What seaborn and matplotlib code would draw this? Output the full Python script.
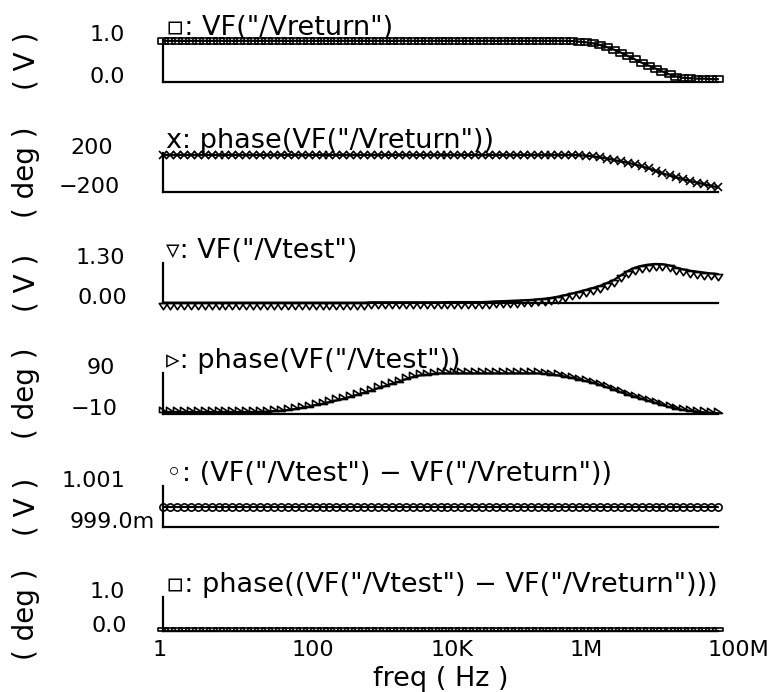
#!/usr/bin/env python3
"""Cadence-style AC sweep: six stacked waveform strips, black markers on white."""
import matplotlib; matplotlib.use("Agg")
import matplotlib.pyplot as plt
import matplotlib.transforms as mtransforms
from matplotlib.path import Path
import seaborn as sns

# ---- data (10 points / decade) ----
freq = [1.0e0, 1.26e0, 1.58e0, 2.0e0, 2.51e0, 3.16e0, 3.98e0, 5.01e0, 6.31e0, 7.94e0,
        1.0e1, 1.26e1, 1.58e1, 2.0e1, 2.51e1, 3.16e1, 3.98e1, 5.01e1, 6.31e1, 7.94e1,
        1.0e2, 1.26e2, 1.58e2, 2.0e2, 2.51e2, 3.16e2, 3.98e2, 5.01e2, 6.31e2, 7.94e2,
        1.0e3, 1.26e3, 1.58e3, 2.0e3, 2.51e3, 3.16e3, 3.98e3, 5.01e3, 6.31e3, 7.94e3,
        1.0e4, 1.26e4, 1.58e4, 2.0e4, 2.51e4, 3.16e4, 3.98e4, 5.01e4, 6.31e4, 7.94e4,
        1.0e5, 1.26e5, 1.58e5, 2.0e5, 2.51e5, 3.16e5, 3.98e5, 5.01e5, 6.31e5, 7.94e5,
        1.0e6, 1.26e6, 1.58e6, 2.0e6, 2.51e6, 3.16e6, 3.98e6, 5.01e6, 6.31e6, 7.94e6,
        1.0e7, 1.26e7, 1.58e7, 2.0e7, 2.51e7, 3.16e7, 3.98e7, 5.01e7, 6.31e7, 7.94e7,
        1.0e8]

vreturn_mag = [0.98, 0.98, 0.98, 0.98, 0.98, 0.98, 0.98, 0.98, 0.98, 0.98,
               0.98, 0.98, 0.98, 0.98, 0.98, 0.98, 0.98, 0.98, 0.98, 0.98,
               0.98, 0.98, 0.98, 0.98, 0.98, 0.98, 0.98, 0.98, 0.98, 0.98,
               0.98, 0.98, 0.98, 0.98, 0.98, 0.98, 0.98, 0.98, 0.98, 0.98,
               0.98, 0.98, 0.98, 0.98, 0.98, 0.98, 0.98, 0.98, 0.98, 0.98,
               0.98, 0.98, 0.98, 0.98, 0.98, 0.98, 0.98, 0.98, 0.98, 0.975,
               0.96, 0.945, 0.92, 0.88, 0.83, 0.77, 0.70, 0.62, 0.54, 0.46,
               0.39, 0.32, 0.25, 0.18, 0.13, 0.10, 0.09, 0.08, 0.08, 0.07,
               0.07]

vreturn_phase = [180, 180, 180, 180, 180, 180, 180, 180, 180, 180,
                 180, 180, 180, 180, 180, 180, 180, 180, 180, 180,
                 180, 180, 180, 180, 180, 180, 180, 180, 180, 180,
                 180, 180, 180, 180, 180, 180, 180, 180, 180, 180,
                 180, 180, 180, 180, 180, 180, 180, 180, 180, 180,
                 180, 180, 180, 180, 180, 180, 180, 180, 180, 180,
                 178, 172, 165, 155, 143, 128, 114, 100, 84, 64,
                 42, 17, -8, -29, -50, -69, -87, -104, -120, -137,
                 -152]

vtest_mag = [0.01, 0.01, 0.01, 0.01, 0.01, 0.01, 0.01, 0.01, 0.01, 0.01,
             0.01, 0.01, 0.01, 0.01, 0.01, 0.01, 0.01, 0.01, 0.01, 0.01,
             0.01, 0.01, 0.01, 0.01, 0.01, 0.01, 0.01, 0.01, 0.01, 0.01,
             0.02, 0.02, 0.02, 0.02, 0.02, 0.02, 0.02, 0.02, 0.02, 0.02,
             0.02, 0.03, 0.03, 0.03, 0.03, 0.03, 0.03, 0.04, 0.05, 0.06,
             0.07, 0.08, 0.09, 0.10, 0.12, 0.14, 0.17, 0.21, 0.26, 0.31,
             0.37, 0.43, 0.49, 0.56, 0.65, 0.75, 0.90, 1.04, 1.15, 1.21,
             1.25, 1.27, 1.26, 1.22, 1.15, 1.09, 1.05, 1.02, 0.99, 0.96,
             0.94]

vtest_phase = [-5, -5, -5, -5, -5, -5, -5, -5, -5, -5,
               -5, -5, -5, -5, -4.5, -4, -3, -2, 0, 2,
               5, 8, 12, 15, 19, 23, 27, 32, 37, 42,
               47, 53, 58, 64, 69, 75, 80, 84, 86, 88,
               89, 89, 89, 89, 89, 89, 89, 89, 89, 89,
               89, 89, 89, 89, 89, 88, 86, 84, 81, 78,
               74, 70, 66, 61, 55, 49, 43, 37, 32, 27,
               22, 17, 12, 7, 3, 0, -2, -4, -6, -7,
               -8]

vdiff_mag = [1.0, 1.0, 1.0, 1.0, 1.0, 1.0, 1.0, 1.0, 1.0, 1.0,
             1.0, 1.0, 1.0, 1.0, 1.0, 1.0, 1.0, 1.0, 1.0, 1.0,
             1.0, 1.0, 1.0, 1.0, 1.0, 1.0, 1.0, 1.0, 1.0, 1.0,
             1.0, 1.0, 1.0, 1.0, 1.0, 1.0, 1.0, 1.0, 1.0, 1.0,
             1.0, 1.0, 1.0, 1.0, 1.0, 1.0, 1.0, 1.0, 1.0, 1.0,
             1.0, 1.0, 1.0, 1.0, 1.0, 1.0, 1.0, 1.0, 1.0, 1.0,
             1.0, 1.0, 1.0, 1.0, 1.0, 1.0, 1.0, 1.0, 1.0, 1.0,
             1.0, 1.0, 1.0, 1.0, 1.0, 1.0, 1.0, 1.0, 1.0, 1.0,
             1.0]

vdiff_phase = [0.0, 0.0, 0.0, 0.0, 0.0, 0.0, 0.0, 0.0, 0.0, 0.0,
               0.0, 0.0, 0.0, 0.0, 0.0, 0.0, 0.0, 0.0, 0.0, 0.0,
               0.0, 0.0, 0.0, 0.0, 0.0, 0.0, 0.0, 0.0, 0.0, 0.0,
               0.0, 0.0, 0.0, 0.0, 0.0, 0.0, 0.0, 0.0, 0.0, 0.0,
               0.0, 0.0, 0.0, 0.0, 0.0, 0.0, 0.0, 0.0, 0.0, 0.0,
               0.0, 0.0, 0.0, 0.0, 0.0, 0.0, 0.0, 0.0, 0.0, 0.0,
               0.0, 0.0, 0.0, 0.0, 0.0, 0.0, 0.0, 0.0, 0.0, 0.0,
               0.0, 0.0, 0.0, 0.0, 0.0, 0.0, 0.0, 0.0, 0.0, 0.0,
               0.0]

titles = ['\u25ab: VF("/Vreturn")',
          'x: phase(VF("/Vreturn"))',
          '\u25bf: VF("/Vtest")',
          '\u25b9: phase(VF("/Vtest"))',
          '\u25e6: (VF("/Vtest") \u2212 VF("/Vreturn"))',
          '\u25ab: phase((VF("/Vtest") \u2212 VF("/Vreturn")))']
units = ["( V )", "( deg )", "( V )", "( deg )", "( V )", "( deg )"]
ylims = [(0.0, 1.0), (-200, 200), (0.0, 1.30), (-10, 90), (0.999, 1.001), (0.0, 1.0)]
ylabels = [("1.0", "0.0"), ("200", "\u2212200"), ("1.30", "0.00"),
           ("90", "\u221210"), ("1.001", "999.0m"), ("1.0", "0.0")]
xtick_vals = [1, 1e2, 1e4, 1e6, 1e8]
xtick_labels = ["1", "100", "10K", "1M", "100M"]
series = [vreturn_mag, vreturn_phase, vtest_mag, vtest_phase, vdiff_mag, vdiff_phase]

# ---- marker shapes (Cadence draws some of them hanging off the trace) ----
rect_c = Path([(-1, -0.7), (1, -0.7), (1, 0.7), (-1, 0.7), (-1, -0.7)], closed=True)
tri_hang = Path([(-1, 0), (1, 0), (0, -1.5), (-1, 0)], closed=True)
tri_corner = Path([(-1, 0), (1, 0), (-1, 1.3), (-1, 0)], closed=True)
rect_up = Path([(-1, 0), (1, 0), (1, 0.7), (-1, 0.7), (-1, 0)], closed=True)
markers = [(rect_c, 7), ("x", 5.5), (tri_hang, 9), (tri_corner, 7.5), ("o", 5.2), (rect_up, 6.5)]

# pixel layout: (top, bottom) of each strip, right edges of the y labels
W, H = 774, 692
X0, X1 = 163, 718
boxes = [(40, 82), (153, 192), (263, 303), (373, 414), (486, 527), (597, 631)]
ylab_right = [(125, 125), (113, 120), (125, 127), (115, 118), (125, 155), (125, 127)]

sns.set_style("white")
plt.rcParams["font.family"] = ["DejaVu Sans"]
plt.rcParams.update({"text.color": "black", "axes.labelcolor": "black",
                     "xtick.color": "black", "ytick.color": "black"})
FS, FS_TICK, FS_UNIT = 19.5, 16, 20

fig = plt.figure(figsize=(W / 100, H / 100), dpi=100)
axes = []
for i, vals in enumerate(series):
    top, bot = boxes[i]
    ax = fig.add_axes([X0 / W, 1 - bot / H, (X1 - X0) / W, (bot - top) / H])
    mk, ms = markers[i]
    sns.lineplot(x=freq, y=vals, ax=ax, color="black", linewidth=1.6,
                 estimator=None, errorbar=None, marker=mk, markersize=ms,
                 markerfacecolor="none", markeredgecolor="black",
                 markeredgewidth=1.2, clip_on=False, zorder=5)
    ax.set_xscale("log")
    ax.set_xlim(1, 1e8)
    lo, hi = ylims[i]
    ax.set_ylim(lo, hi)
    for s in ("top", "right"):
        ax.spines[s].set_visible(False)
    for s in ("left", "bottom"):
        ax.spines[s].set_linewidth(1.6); ax.spines[s].set_color("black")
    # x: tick marks at 100 / 10K / 1M only, labels on the bottom strip
    ax.set_xticks(xtick_vals)
    ax.set_xticks([1e2, 1e4, 1e6], minor=True)
    ax.tick_params(axis="x", which="major", length=0, pad=6.5, labelsize=FS_TICK,
                   labelbottom=(i == len(series) - 1))
    ax.tick_params(axis="x", which="minor", direction="in", length=3, width=1.3, color="black")
    # y: bracket cap on top, small tick in the middle
    ax.set_yticks([lo, hi])
    ax.set_yticks([(lo + hi) / 2], minor=True)
    ax.tick_params(axis="y", which="both", direction="in", length=4, width=1.3,
                   color="black", labelleft=False)
    (r_hi, r_lo) = ylab_right[i]
    for v, txt, r in ((hi, ylabels[i][0], r_hi), (lo, ylabels[i][1], r_lo)):
        ax.annotate(txt, xy=(0, v), xycoords=ax.get_yaxis_transform(),
                    xytext=(r - X0, -1), textcoords="offset pixels",
                    ha="right", va="baseline", fontsize=FS_TICK, annotation_clip=False)
    ax.annotate(titles[i], xy=(0, 1), xycoords="axes fraction", xytext=(3, 5),
                textcoords="offset pixels", ha="left", va="baseline", fontsize=FS)
    ax.set_ylabel(units[i], fontsize=FS_UNIT, va="center")
    ax.yaxis.set_label_coords((26 - X0) / (X1 - X0), 0.5)
    ax.set_xlabel("")
    axes.append(ax)

ax = axes[-1]
ax.set_xticklabels(xtick_labels)
shift = mtransforms.ScaledTranslation(-10 / 100, 0, fig.dpi_scale_trans)
for lbl in ax.get_xticklabels():
    lbl.set_horizontalalignment("left")
    lbl.set_transform(lbl.get_transform() + shift)
ax.set_xlabel("freq ( Hz )", fontsize=FS, labelpad=4)

fig.savefig("out.png", dpi=100)
